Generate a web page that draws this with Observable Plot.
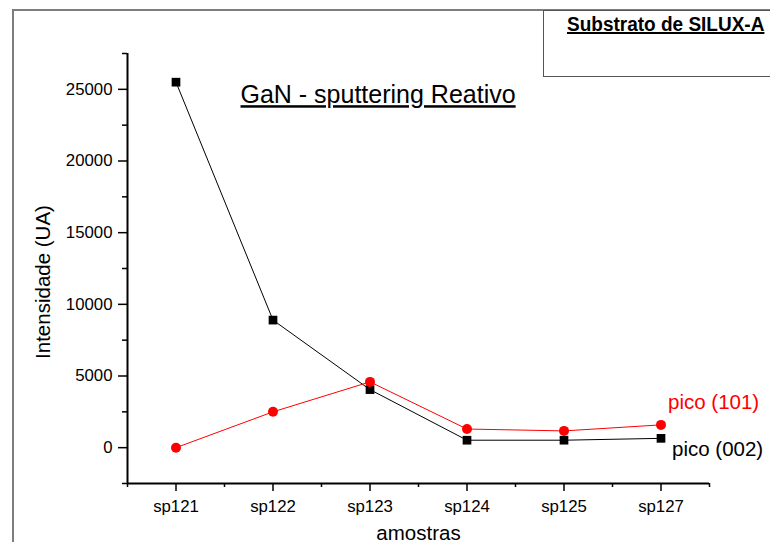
<!DOCTYPE html>
<html>
<head>
<meta charset="utf-8">
<script src="https://cdn.jsdelivr.net/npm/d3@7"></script>
<script src="https://cdn.jsdelivr.net/npm/@observablehq/plot@0.6"></script>
<style>
  html, body { margin: 0; padding: 0; background: #fff; overflow: hidden; width: 770px; height: 542px; }
  #wrap { position: relative; width: 770px; height: 542px; overflow: hidden; font-family: "Liberation Sans", Arial, sans-serif; }
  #frame { position: absolute; left: 12px; top: 9px; width: 900px; height: 700px; border-left: 2px solid #7d7d7d; border-top: 2px solid #7d7d7d; }
  #box { position: absolute; left: 543px; top: 10px; width: 400px; height: 65px; border: 1.5px solid #555; background: #fff; }
  #boxtext { position: absolute; left: 567px; top: 14px; font-weight: bold; font-size: 20px; line-height: 20px; white-space: nowrap; text-decoration: underline; text-decoration-thickness: 2px; color: #000; transform: scaleX(0.95); transform-origin: left top; }
  #chart { position: absolute; left: 0; top: 0; }
</style>
</head>
<body>
<div id="wrap">
  <div id="frame"></div>
  <div id="box"></div>
  <div id="boxtext">Substrato de SILUX-A</div>
  <div id="chart"></div>
</div>
<script>
// ---- data ----
const samples = ["sp121", "sp122", "sp123", "sp124", "sp125", "sp127"];
const pico002 = [25500, 8900, 4050, 520, 520, 650];
const pico101 = [0, 2500, 4590, 1300, 1170, 1590];
const yTicks = [0, 5000, 10000, 15000, 20000, 25000];
const yMinorTicks = [-2500, 2500, 7500, 12500, 17500, 22500, 27500];
const xTicks = [0, 1, 2, 3, 4, 5];
const xMinorTicks = [-0.5, 0.5, 1.5, 2.5, 3.5, 4.5, 5.5];
const label002 = "pico (002)";
const label101 = "pico (101)";
const titleText = "GaN - sputtering Reativo";
const xLabel = "amostras";
const yLabel = "Intensidade (UA)";

const d002 = samples.map((s, i) => ({i, sample: s, v: pico002[i]}));
const d101 = samples.map((s, i) => ({i, sample: s, v: pico101[i]}));

const font = "'Liberation Sans', Arial, sans-serif";

const plot = Plot.plot({
  width: 770,
  height: 542,
  marginLeft: 127,
  marginRight: 61,
  marginTop: 53,
  marginBottom: 59,
  style: {fontFamily: font, fontSize: "16.5px", color: "black", background: "transparent", overflow: "visible"},
  x: {type: "linear", domain: [-0.5, 5.5]},
  y: {domain: [-2500, 27500]},
  marks: [
    Plot.axisY({ticks: yTicks, tickSize: 9, tickPadding: 6, tickFormat: d => String(d), label: null, strokeWidth: 1.5, fontSize: 16.8}),
    Plot.axisY({ticks: yMinorTicks, tickSize: 5, tickFormat: () => "", label: null, strokeWidth: 1.5}),
    Plot.axisX({ticks: xTicks, tickSize: 8, tickPadding: 9, tickFormat: i => samples[i], label: null, strokeWidth: 1.5, fontSize: 16.8}),
    Plot.axisX({ticks: xMinorTicks, tickSize: 4, tickFormat: () => "", label: null, strokeWidth: 1.5}),
    Plot.ruleX([-0.5], {strokeWidth: 2, stroke: "black"}),
    Plot.ruleY([-2500], {strokeWidth: 2, stroke: "black"}),
    Plot.line(d002, {x: "i", y: "v", stroke: "black", strokeWidth: 1}),
    Plot.dot(d002, {x: "i", y: "v", r: 4.9, fill: "black", symbol: "square"}),
    Plot.line(d101, {x: "i", y: "v", stroke: "red", strokeWidth: 1}),
    Plot.dot(d101, {x: "i", y: "v", r: 5, fill: "red", symbol: "circle"}),
    Plot.text([d101[d101.length - 1]], {x: "i", y: "v", text: () => label101, textAnchor: "start", lineAnchor: "bottom", dx: 7, dy: -16, fill: "red", fontSize: 20.5}),
    Plot.text([d002[d002.length - 1]], {x: "i", y: "v", text: () => label002, textAnchor: "start", lineAnchor: "bottom", dx: 11, dy: 18, fill: "black", fontSize: 20.5}),
    Plot.text([yLabel], {frameAnchor: "left", rotate: -90, dx: -84, dy: 13.5, textAnchor: "middle", lineAnchor: "middle", fontSize: 20.5, fill: "black"}),
    Plot.text([xLabel], {frameAnchor: "bottom", dy: 56, lineAnchor: "bottom", textAnchor: "middle", fontSize: 20.5, fill: "black"}),
    Plot.text([titleText], {frameAnchor: "top-left", dx: 113, dy: 49.7, lineAnchor: "bottom", textAnchor: "start", fontSize: 25, fill: "black"})
  ]
});

d3.select(plot).selectAll("text")
  .filter(function () { return this.textContent === titleText; })
  .attr("text-decoration", "underline");

document.getElementById("chart").appendChild(plot);
</script>
</body>
</html>
